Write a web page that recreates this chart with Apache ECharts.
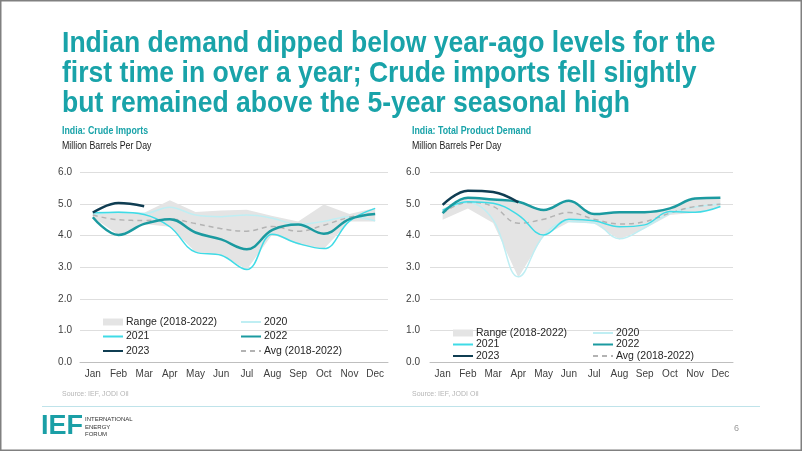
<!DOCTYPE html>
<html>
<head>
<meta charset="utf-8">
<script src="https://cdn.jsdelivr.net/npm/echarts@6/dist/echarts.min.js"></script>
<style>
html,body{margin:0;padding:0;background:#fff;}
#chart{width:802px;height:451px;}
</style>
</head>
<body>
<div id="chart"></div>
<script>
const months = ['Jan','Feb','Mar','Apr','May','Jun','Jul','Aug','Sep','Oct','Nov','Dec'];
const yTicks = [0, 1, 2, 3, 4, 5, 6];

// India: Crude Imports (mb/d)
const crude2023 = [4.73, 5.03, 4.93];
const crude2022 = [4.58, 4.02, 4.37, 4.52, 4.10, 3.88, 3.57, 4.18, 4.35, 4.06, 4.52, 4.68];
const crude2021 = [4.72, 4.74, 4.67, 4.28, 3.48, 3.38, 2.93, 4.04, 3.75, 3.59, 4.46, 4.86];
const crude2020 = [4.66, 4.74, 4.70, 4.90, 4.65, 4.60, 4.65, 4.55, 4.35, 4.45, 4.60, 4.47];
const crudeAvg  = [4.65, 4.50, 4.48, 4.52, 4.38, 4.22, 4.14, 4.29, 4.14, 4.33, 4.58, 4.70];
const crudeHigh = [4.72, 4.76, 4.72, 5.12, 4.75, 4.79, 4.82, 4.62, 4.45, 4.98, 4.68, 4.87];
const crudeLow  = [4.58, 4.02, 4.37, 4.28, 3.48, 3.38, 2.93, 4.04, 3.72, 3.58, 4.45, 4.45];

// India: Total Product Demand (mb/d)
const dem2023 = [4.97, 5.42, 5.38, 5.05];
const dem2022 = [4.71, 5.20, 5.14, 5.07, 4.81, 5.10, 4.68, 4.74, 4.74, 4.86, 5.17, 5.20];
const dem2021 = [4.80, 5.07, 5.02, 4.65, 4.02, 4.52, 4.47, 4.28, 4.34, 4.76, 4.74, 4.92];
const dem2020 = [4.80, 5.05, 4.50, 2.70, 4.00, 4.45, 4.40, 3.90, 4.25, 4.70, 4.90, 5.00];
const demAvg  = [4.71, 5.05, 4.92, 4.39, 4.52, 4.73, 4.52, 4.37, 4.44, 4.71, 4.92, 4.99];
const demHigh = [4.85, 5.20, 5.15, 5.07, 4.82, 5.10, 4.70, 4.74, 4.74, 4.86, 5.17, 5.20];
const demLow  = [4.50, 4.86, 4.40, 2.68, 4.00, 4.42, 4.38, 3.88, 4.22, 4.65, 4.72, 4.90];

const TEAL_TITLE = '#19a3a9';
const C2023 = '#0f3d52';
const C2022 = '#1b9aa0';
const C2021 = '#3fdbe6';
const C2020 = '#bfeef3';
const CAVG = '#b3b3b3';
const CRANGE = '#e4e4e4';
const FONT = '"Liberation Sans", Arial, sans-serif';

const NAMES = {range:'Range (2018-2022)', y20:'2020', y21:'2021', y22:'2022', y23:'2023', avg:'Avg (2018-2022)'};

function seriesFor(idx, d) {
  const diff = d.high.map((h, i) => +(h - d.low[i]).toFixed(3));
  const stack = 'range' + idx;
  const common = {type:'line', xAxisIndex: idx, yAxisIndex: idx, symbol:'none', showSymbol:false};
  return [
    Object.assign({}, common, {name:'__base'+idx, data:d.low, stack:stack, lineStyle:{opacity:0, width:0}, silent:true}),
    Object.assign({}, common, {name:NAMES.range, data:diff, stack:stack, lineStyle:{opacity:0, width:0}, areaStyle:{color:CRANGE, opacity:1}, itemStyle:{color:CRANGE}}),
    Object.assign({}, common, {name:NAMES.y20, data:d.y20, smooth:0.4, lineStyle:{color:C2020, width:1.5}, itemStyle:{color:C2020}}),
    Object.assign({}, common, {name:NAMES.avg, data:d.avg, smooth:0.4, lineStyle:{color:CAVG, width:1.5, type:[5,4]}, itemStyle:{color:CAVG}}),
    Object.assign({}, common, {name:NAMES.y21, data:d.y21, smooth:0.4, lineStyle:{color:C2021, width:1.5}, itemStyle:{color:C2021}}),
    Object.assign({}, common, {name:NAMES.y22, data:d.y22, smooth:0.4, lineStyle:{color:C2022, width:2.5}, itemStyle:{color:C2022}}),
    Object.assign({}, common, {name:NAMES.y23, data:d.y23, smooth:0.4, lineStyle:{color:C2023, width:2.5}, itemStyle:{color:C2023}})
  ];
}

const grids = [
  {left:80, top:172.3, width:308, height:190},
  {left:430, top:172.3, width:303, height:190}
];

function xAxis(idx){
  return {type:'category', gridIndex:idx, data:months, boundaryGap:true,
    axisLine:{show:true, lineStyle:{color:'#bfbfbf', width:1}}, axisTick:{show:false},
    axisLabel:{color:'#404040', fontSize:10, fontFamily:FONT, margin:7, interval:0}};
}
function yAxis(idx, margin){
  return {type:'value', gridIndex:idx, min:yTicks[0], max:yTicks[yTicks.length-1], interval:1,
    axisLine:{show:false}, axisTick:{show:false},
    splitLine:{lineStyle:{color:'#dedede', width:1}},
    axisLabel:{color:'#404040', fontSize:10, fontFamily:FONT, margin:margin, formatter:v=>v.toFixed(1)}};
}

function legendCol(left, top, items, gap){
  return {orient:'vertical', left:left, top:top, padding:0, itemWidth:20, itemHeight:7, itemGap:gap,
    itemStyle:{opacity:0},
    textStyle:{color:'#262626', fontSize:10.5, fontFamily:FONT, lineHeight:12, padding:[0,0,0,-2]},
    selectedMode:false, data:items};
}
const rangeItem = {name:NAMES.range, icon:'rect', itemStyle:{color:CRANGE, opacity:1}};

function narrowText(x, y, text, size, color, weight, sx, lh){
  return {type:'text', x:x, y:y, scaleX:sx, silent:true,
    style:{text:text, fill:color, font:(weight||'normal')+' '+size+'px '+FONT, lineHeight:lh||size*1.2, textVerticalAlign:'top'}};
}

const option = {
  animation:false,
  backgroundColor:'#fff',
  grid:grids,
  xAxis:[xAxis(0), xAxis(1)],
  yAxis:[yAxis(0, 8), yAxis(1, 10)],
  legend:[
    legendCol(102, 316, [rangeItem, NAMES.y21, NAMES.y23], 2.5),
    legendCol(240, 316, [NAMES.y20, NAMES.y22, NAMES.avg], 2.5),
    legendCol(452, 327, [rangeItem, NAMES.y21, NAMES.y23], -0.5),
    legendCol(592, 327, [NAMES.y20, NAMES.y22, NAMES.avg], -0.5)
  ],
  series:[].concat(
    seriesFor(0, {low:crudeLow, high:crudeHigh, y20:crude2020, avg:crudeAvg, y21:crude2021, y22:crude2022, y23:crude2023}),
    seriesFor(1, {low:demLow, high:demHigh, y20:dem2020, avg:demAvg, y21:dem2021, y22:dem2022, y23:dem2023})
  ),
  graphic:[
    narrowText(62, 29, 'Indian demand dipped below year-ago levels for the\nfirst time in over a year; Crude imports fell slightly\nbut remained above the 5-year seasonal high', 30, TEAL_TITLE, 'bold', 0.885, 30),
    narrowText(62, 124, 'India: Crude Imports', 11, TEAL_TITLE, 'bold', 0.8),
    narrowText(62, 139, 'Million Barrels Per Day', 11, '#1a1a1a', 'normal', 0.8),
    narrowText(412, 124, 'India: Total Product Demand', 11, TEAL_TITLE, 'bold', 0.8),
    narrowText(412, 139, 'Million Barrels Per Day', 11, '#1a1a1a', 'normal', 0.8),
    {type:'text', left:62, top:391, style:{text:'Source: IEF, JODI Oil', fill:'#b5b5b5', font:'7px '+FONT}},
    {type:'text', left:412, top:391, style:{text:'Source: IEF, JODI Oil', fill:'#b5b5b5', font:'7px '+FONT}},
    {type:'line', shape:{x1:42, y1:406.5, x2:760, y2:406.5}, style:{stroke:'#bfe3ea', lineWidth:1}},
    {type:'text', left:41, top:413, style:{text:'IEF', fill:'#1a9fa6', font:'bold 27px '+FONT}},
    {type:'text', left:85, top:416, style:{text:'INTERNATIONAL\nENERGY\nFORUM', fill:'#333', font:'6px '+FONT, lineHeight:7.3}},
    {type:'text', left:734, top:424, style:{text:'6', fill:'#9a9a9a', font:'9px '+FONT}},
    {type:'rect', shape:{x:0.75, y:0.75, width:800.5, height:449.5}, style:{fill:null, stroke:'#808080', lineWidth:1.5}, silent:true}
  ]
};

const chart = echarts.init(document.getElementById('chart'), null, {renderer:'canvas'});
chart.setOption(option);
</script>
</body>
</html>
